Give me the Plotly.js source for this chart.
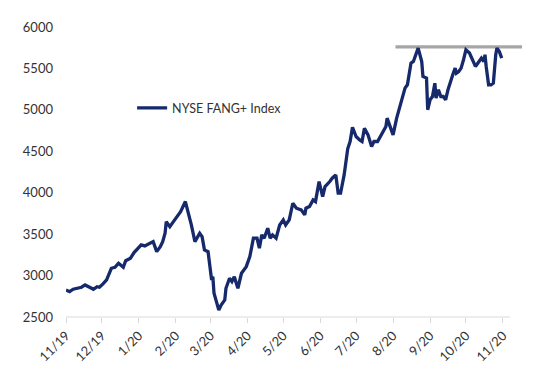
<!DOCTYPE html>
<html>
<head>
<meta charset="utf-8">
<script src="https://cdn.plot.ly/plotly-3.0.1.min.js"></script>
<style>
html,body{margin:0;padding:0;background:#fff;}
#chart{width:540px;height:377px;}
</style>
</head>
<body>
<div id="chart"></div>
<script>
// NYSE FANG+ Index
const dates = [
 '2019-11-01','2019-11-04','2019-11-07','2019-11-11','2019-11-14','2019-11-17','2019-11-20','2019-11-24','2019-11-27','2019-11-29',
 '2019-12-02','2019-12-05','2019-12-09','2019-12-12','2019-12-15','2019-12-19','2019-12-21','2019-12-25','2019-12-28','2019-12-31',
 '2020-01-03','2020-01-06','2020-01-10','2020-01-13','2020-01-16','2020-01-19','2020-01-21','2020-01-23','2020-01-24','2020-01-27','2020-01-30',
 '2020-02-03','2020-02-05','2020-02-09','2020-02-11','2020-02-14','2020-02-17','2020-02-19','2020-02-21','2020-02-23','2020-02-25','2020-02-28','2020-02-29',
 '2020-03-02','2020-03-03','2020-03-04','2020-03-06','2020-03-08','2020-03-10','2020-03-13','2020-03-14','2020-03-17','2020-03-19','2020-03-21','2020-03-24','2020-03-27','2020-03-31',
 '2020-04-03','2020-04-06','2020-04-09','2020-04-11','2020-04-13','2020-04-15','2020-04-18','2020-04-20','2020-04-22','2020-04-25','2020-04-28',
 '2020-05-01','2020-05-03','2020-05-06','2020-05-09','2020-05-12','2020-05-16','2020-05-19','2020-05-20','2020-05-23','2020-05-26','2020-05-28','2020-05-31',
 '2020-06-03','2020-06-05','2020-06-09','2020-06-11','2020-06-14','2020-06-16','2020-06-18','2020-06-21','2020-06-24','2020-06-26','2020-06-28',
 '2020-07-01','2020-07-04','2020-07-06','2020-07-08','2020-07-11','2020-07-14','2020-07-16','2020-07-19','2020-07-22','2020-07-26','2020-07-27','2020-07-30',
 '2020-08-01','2020-08-04','2020-08-06','2020-08-08','2020-08-11','2020-08-13','2020-08-16','2020-08-18','2020-08-20','2020-08-22','2020-08-25','2020-08-26','2020-08-29','2020-08-30',
 '2020-09-01','2020-09-03','2020-09-05','2020-09-06','2020-09-08','2020-09-10','2020-09-12','2020-09-14','2020-09-16','2020-09-18','2020-09-20','2020-09-22','2020-09-23','2020-09-25','2020-09-27','2020-09-29',
 '2020-10-01','2020-10-04','2020-10-07','2020-10-09','2020-10-12','2020-10-14','2020-10-16','2020-10-17','2020-10-18','2020-10-20','2020-10-22','2020-10-24','2020-10-26','2020-10-27','2020-10-29','2020-10-31'
];
const fangValues = [
 2826,2806,2835,2847,2859,2887,2866,2835,2866,2859,
 2899,2947,3088,3100,3149,3100,3180,3209,3277,3318,
 3370,3358,3390,3410,3289,3349,3410,3511,3651,3591,3651,
 3732,3772,3893,3793,3611,3410,3470,3511,3470,3309,3289,3168,
 2947,2987,2786,2685,2585,2645,2705,2847,2967,2927,2987,2847,3028,3108,
 3229,3451,3451,3330,3491,3451,3571,3451,3491,3451,3611,
 3672,3611,3672,3873,3813,3793,3732,3813,3833,3913,3893,4135,
 3953,4074,4135,4175,4215,3994,3994,4215,4530,4618,4790,
 4678,4638,4618,4779,4698,4557,4618,4618,4698,4799,4900,4759,
 4698,4900,5001,5101,5262,5302,5564,5584,5665,5745,5584,5403,5383,5001,
 5122,5161,5322,5141,5242,5161,5161,5122,5242,5342,5423,5504,5443,5463,5504,5604,
 5725,5685,5584,5524,5584,5624,5584,5665,5524,5302,5302,5322,5665,5745,5705,5624
];
const resistanceDates = ['2020-08-03','2020-11-17'];
const resistanceValues = [5760,5760];
const tickDates = ['2019-11-01','2019-12-01','2020-01-01','2020-02-01','2020-03-01','2020-04-01','2020-05-01','2020-06-01','2020-07-01','2020-08-01','2020-09-01','2020-10-01','2020-11-01'];
const tickLabels = ['11/19','12/19','1/20','2/20','3/20','4/20','5/20','6/20','7/20','8/20','9/20','10/20','11/20'];
const seriesName = 'NYSE FANG+ Index';

const font = {family:'Lato, "Open Sans", sans-serif', size:13, color:'#333333'};

const traces = [
 {x:resistanceDates, y:resistanceValues, type:'scatter', mode:'lines', showlegend:false, hoverinfo:'skip',
  line:{color:'#a6a6a6', width:3.2}},
 {x:dates, y:fangValues, type:'scatter', mode:'lines', name:seriesName,
  line:{color:'#15296b', width:3.3, shape:'linear'}}
];

const layout = {
 width:540, height:377,
 margin:{l:66, r:18, t:27, b:60},
 paper_bgcolor:'#ffffff', plot_bgcolor:'#ffffff',
 font:font,
 showlegend:true,
 legend:{x:0.145, y:0.72, xanchor:'left', yanchor:'middle', bgcolor:'rgba(0,0,0,0)',
   font:{family:'Lato, "Open Sans", sans-serif', size:12.5, color:'#333333'}, itemwidth:30, tracegroupgap:0},
 xaxis:{type:'date', range:['2019-11-01','2020-11-17'], tickmode:'array', tickvals:tickDates, ticktext:tickLabels,
   tickangle:-45, showgrid:false, zeroline:false, showline:false, ticks:'outside', ticklen:5, tickcolor:'#d9d9d9',
   tickfont:font, fixedrange:true},
 yaxis:{range:[2500,6000], tickmode:'array', tickvals:[2500,3000,3500,4000,4500,5000,5500,6000],
   showgrid:false, zeroline:false, showline:false, ticks:'', ticklabelstandoff:12, tickfont:font, fixedrange:true},
 shapes:[{type:'line', xref:'paper', yref:'paper', x0:0, x1:0.9737, y0:0, y1:0, line:{color:'#d9d9d9', width:1.2}}]
};

Plotly.newPlot('chart', traces, layout, {displayModeBar:false, staticPlot:true});
</script>
</body>
</html>
